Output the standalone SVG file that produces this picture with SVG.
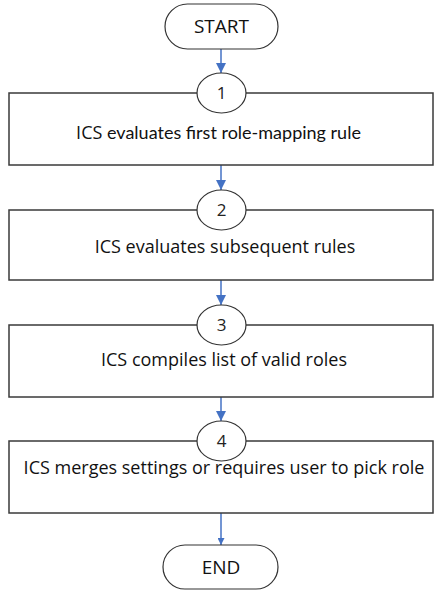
<svg xmlns="http://www.w3.org/2000/svg" width="438" height="592" viewBox="0 0 438 592">
<defs>
<style>
.box{fill:#fff;stroke:#3a3a3a;stroke-width:1.5}
.circ{fill:#fff;stroke:#333;stroke-width:1.2}
.term{fill:#fff;stroke:#333;stroke-width:1.2}
.t{font-family:"Open Sans","Liberation Sans",sans-serif;font-size:18px;fill:#111;text-anchor:middle}
.lato{font-family:Lato,"Liberation Sans",sans-serif}
.tl{font-family:"Open Sans","Liberation Sans",sans-serif;font-size:19px;fill:#111;text-anchor:middle}
.n{font-family:"Open Sans","Liberation Sans",sans-serif;font-size:17px;fill:#222;text-anchor:middle}
.c{stroke:#4472C4;stroke-width:1.5;fill:none}
</style>
<marker id="ah" viewBox="0 0 10 10" refX="10" refY="5" markerWidth="10" markerHeight="10" markerUnits="userSpaceOnUse" orient="auto">
<path d="M0,0 L10,5 L0,10 z" fill="#4472C4"/>
</marker>
<marker id="ahs" viewBox="0 0 10 10" refX="10" refY="5" markerWidth="7" markerHeight="7" markerUnits="userSpaceOnUse" orient="auto">
<path d="M0,0 L10,5 L0,10 z" fill="#4472C4"/>
</marker>
</defs>
<g id="connectors">
<line class="c" x1="221" y1="49" x2="221" y2="73" marker-end="url(#ah)"/>
<line class="c" x1="221" y1="165" x2="221" y2="190" marker-end="url(#ah)"/>
<line class="c" x1="221" y1="280" x2="221" y2="305" marker-end="url(#ah)"/>
<line class="c" x1="221" y1="397" x2="221" y2="421" marker-end="url(#ah)"/>
<line class="c" x1="221" y1="513" x2="221" y2="545" stroke-width="1.2" marker-end="url(#ahs)"/>
</g>
<g id="start">
<rect class="term" x="165" y="4" width="113" height="45" rx="22.5"/>
<text class="tl" x="221.5" y="33">START</text>
</g>
<g id="step1">
<rect class="box" x="9" y="93" width="424" height="72"/>
<ellipse class="circ" cx="221.5" cy="93" rx="24.5" ry="20"/>
<text class="n" x="221.5" y="99">1</text>
<text class="t" x="218.5" y="139">ICS <tspan class="lato">evaluates first role-mapping rule</tspan></text>
</g>
<g id="step2">
<rect class="box" x="9" y="210" width="424" height="70"/>
<ellipse class="circ" cx="221.5" cy="210" rx="24.5" ry="20"/>
<text class="n" x="221.5" y="216">2</text>
<text class="t" x="225" y="253">ICS evaluates subsequent rules</text>
</g>
<g id="step3">
<rect class="box" x="9" y="325" width="424" height="72"/>
<ellipse class="circ" cx="221.5" cy="325" rx="24.5" ry="20"/>
<text class="n" x="221.5" y="331">3</text>
<text class="t" x="224" y="366">ICS compiles list of valid roles</text>
</g>
<g id="step4">
<rect class="box" x="9" y="441" width="424" height="72"/>
<ellipse class="circ" cx="221.5" cy="441" rx="24.5" ry="20"/>
<text class="n" x="221.5" y="447">4</text>
<text class="t" x="224" y="474">ICS merges settings or requires user to pick role</text>
</g>
<g id="end">
<rect class="term" x="163" y="545" width="115" height="44" rx="22"/>
<text class="tl" x="221" y="574">END</text>
</g>
</svg>
